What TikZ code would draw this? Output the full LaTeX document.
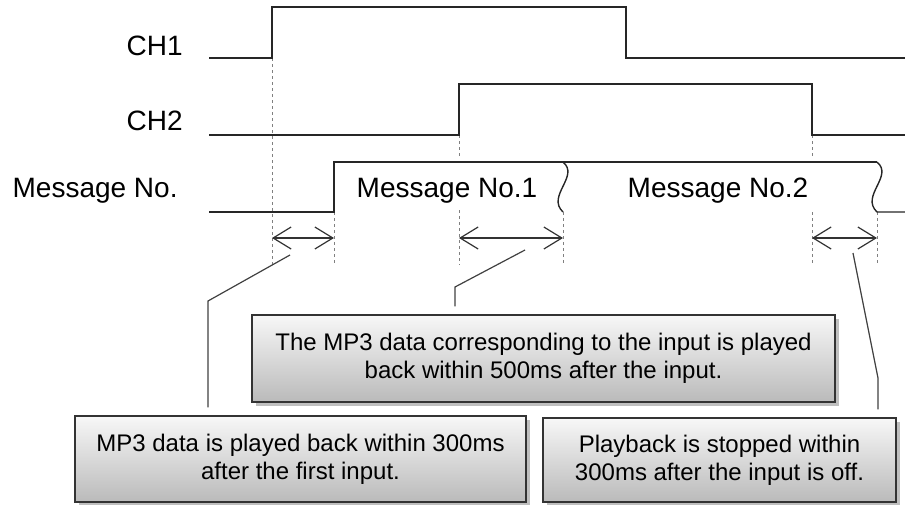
\documentclass[tikz,border=0pt]{standalone}
\usepackage{fontspec}
\setmainfont{Liberation Sans}
\usetikzlibrary{arrows.meta}
\usetikzlibrary{shadows}

\begin{document}
\begin{tikzpicture}[
  x=0.5pt,
  y=-0.5pt,
  sig/.style={
      line width=0.7pt,
      black!85
  },
  guide/.style={
      gray,
      line width=0.5pt,
      dash pattern=on 1.5pt off 1.5pt
  },
  span/.style={
      {Straight Barb[length=9pt,width=11pt]}-{Straight Barb[length=9pt,width=11pt]},
      line width=0.6pt,
      black!80
  },
  lbl/.style={
      font=\fontsize{14}{16}\selectfont,
      anchor=base east,
      inner sep=0pt
  },
  msg/.style={
      font=\fontsize{14}{16}\selectfont,
      anchor=base,
      inner sep=0pt
  },
  callout/.style={
      line width=0.6pt,
      black!75,
      shorten >=4pt
  },
  note/.style={
      draw=black!80,
      line width=0.7pt,
      top color=black!3,
      bottom color=black!27,
      drop shadow={shadow xshift=2pt,shadow yshift=-2pt,opacity=0.5},
      align=center,
      font=\fontsize{12}{13.8}\selectfont,
      inner sep=0pt
  }
]
\useasboundingbox (0,0) rectangle (905,504);

\node[lbl] (ch1) at (183,55) {CH1};
\node[lbl] (ch2) at (183,130) {CH2};
\node[lbl] (msgno) at (178,197) {Message No.};

\draw[guide] (272,58) -- (272,265);
\draw[guide] (334,212) -- (334,265);
\draw[guide] (459,135) -- (459,158) (459,210) -- (459,265);
\draw[guide] (563,212) -- (563,265);
\draw[guide] (812,135) -- (812,158) (812,212) -- (812,265);
\draw[guide] (877,212) -- (877,265);

\draw[sig] (209,58) -- (272,58) -- (272,7) -- (626,7) -- (626,58) -- (905,58);
\draw[sig] (209,135) -- (459,135) -- (459,84) -- (812,84) -- (812,135) -- (905,135);
\draw[sig] (209,212) -- (334,212) -- (334,162) -- (877,162);
\draw[sig] (563,162) .. controls (580,176) and (546,196) .. (563,212);
\draw[sig] (877,162) .. controls (894,176) and (860,196) .. (877,212) -- (905,212);

\node[msg] (msg1) at (447,197) {Message No.1};
\node[msg] (msg2) at (718,197) {Message No.2};

\coordinate (s1a) at (272,238);
\coordinate (s1b) at (334,238);
\coordinate (s2a) at (459,238);
\coordinate (s2b) at (563,238);
\coordinate (s3a) at (812,238);
\coordinate (s3b) at (877,238);
\draw[span] (s1a) -- (s1b);
\draw[span] (s2a) -- (s2b);
\draw[span] (s3a) -- (s3b);

\node[note, minimum width=291.5pt, minimum height=43.5pt] (boxA) at (543.5,358.5)
{The MP3 data corresponding to the input is played\\
back within 500ms after the input.};

\node[note, minimum width=225.5pt, minimum height=43pt] (boxB) at (300.5,459)
{MP3 data is played back within 300ms\\
after the first input.};

\node[note, minimum width=176.5pt, minimum height=42pt] (boxC) at (719.5,460)
{Playback is stopped within\\
300ms after the input is off.};

\coordinate (p1) at (290,255);
\coordinate (k1) at (208,301);
\coordinate (p2) at (525,250);
\coordinate (k2) at (455,287);
\coordinate (p3) at (853,253);
\coordinate (k3) at (878,378);

\draw[callout] (p1) -- (k1) -- (k1 |- boxB.north);
\draw[callout] (p2) -- (k2) -- (k2 |- boxA.north);
\draw[callout] (p3) -- (k3) -- (k3 |- boxC.north);

\end{tikzpicture}
\end{document}
